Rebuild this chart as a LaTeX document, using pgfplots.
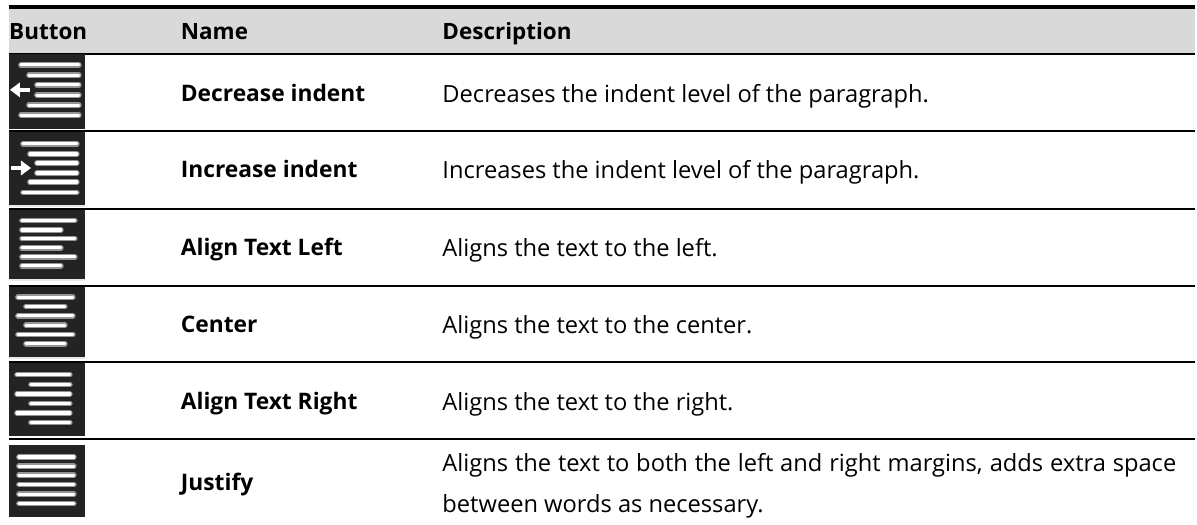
\documentclass[border=0pt]{standalone}
\usepackage{pgfplots}
\pgfplotsset{compat=1.18}
\usepackage{fontspec}
\setmainfont{Open Sans}
\definecolor{hdr}{HTML}{D9D9D9}
\definecolor{ico}{HTML}{222322}
\definecolor{halo}{HTML}{959595}
\newcommand{\bars}[1]{%
  \addplot[halo,line width=5.6pt,line cap=round,forget plot] coordinates {#1};%
  \addplot[white,line width=3.2pt,line cap=round,forget plot] coordinates {#1};}
\newcommand{\T}[3]{\node[anchor=base west,inner sep=0pt,text=black,font=\fontsize{23.7}{26}\selectfont] at (axis cs:#1,#2) {#3};}
\newcommand{\B}[3]{\node[anchor=base west,inner sep=0pt,text=black,font=\fontsize{22.8}{26}\selectfont\bfseries] at (axis cs:#1,#2) {#3};}
\newcommand{\Hd}[3]{\node[anchor=base west,inner sep=0pt,text=black,font=\fontsize{22.5}{26}\selectfont\bfseries] at (axis cs:#1,#2) {#3};}
\begin{document}
\begin{tikzpicture}
\begin{axis}[width=1197pt,height=525pt,scale only axis,hide axis,
  xmin=0,xmax=1197,ymin=0,ymax=525,y dir=reverse,clip=false]
% white page
\addplot[fill=white,draw=none,forget plot] coordinates {(0,0) (1197,0) (1197,525) (0,525)} --cycle;
% header
\addplot[fill=hdr,draw=none,forget plot] coordinates {(9,9) (1197,9) (1197,53) (9,53)} --cycle;
\addplot[black,line width=4pt,forget plot] coordinates {(9,7) (1197,7)};
\pgfplotsinvokeforeach{53.8,131,209,286,363,440}{\addplot[black,line width=2pt,forget plot] coordinates {(9,#1) (1197,#1)};}
% icon backgrounds
\addplot[fill=ico,draw=none,forget plot] coordinates {(9,54) (85,54) (85,129) (9,129)} --cycle;
\addplot[fill=ico,draw=none,forget plot] coordinates {(9,132) (85,132) (85,205) (9,205)} --cycle;
\addplot[fill=ico,draw=none,forget plot] coordinates {(9,210) (85,210) (85,279) (9,279)} --cycle;
\addplot[fill=ico,draw=none,forget plot] coordinates {(9,287) (85,287) (85,358) (9,358)} --cycle;
\addplot[fill=ico,draw=none,forget plot] coordinates {(9,364) (85,364) (85,437) (9,437)} --cycle;
\addplot[fill=ico,draw=none,forget plot] coordinates {(9,446) (85,446) (85,518) (9,518)} --cycle;
% icon 1
\bars{(21,65) (79,65)} \bars{(29,75.3) (79,75.3)} \bars{(37,85) (79,85)} \bars{(37,95.3) (79,95.3)} \bars{(29,105.3) (79,105.3)} \bars{(21,115.3) (79,115.3)}
\addplot[white,line width=4pt,forget plot] coordinates {(18,90) (30,90)};
\addplot[fill=white,draw=none,forget plot] coordinates {(10,90) (20,82.5) (20,97.5)} --cycle;
% icon 2
\bars{(23,144) (77,144)} \bars{(30,154.3) (77,154.3)} \bars{(37,163.3) (77,163.3)} \bars{(37,173.3) (77,173.3)} \bars{(30,182.3) (77,182.3)} \bars{(23,192.7) (77,192.7)}
\addplot[white,line width=4pt,forget plot] coordinates {(11,168.3) (23,168.3)};
\addplot[fill=white,draw=none,forget plot] coordinates {(31,168.3) (21,160.8) (21,175.8)} --cycle;
% icon 3
\bars{(22,221) (75,221)} \bars{(22,230.3) (61,230.3)} \bars{(22,239) (75,239)} \bars{(22,248.3) (61,248.3)} \bars{(22,257.3) (75,257.3)} \bars{(22,266.3) (61,266.3)}
% icon 4
\bars{(18,297.7) (73,297.7)} \bars{(26,307) (65,307)} \bars{(18,316.3) (73,316.3)} \bars{(26,325.7) (65,325.7)} \bars{(18,335) (73,335)} \bars{(26,344.3) (65,344.3)}
% icon 5
\bars{(17,375.3) (70,375.3)} \bars{(31,385) (70,385)} \bars{(17,394.7) (70,394.7)} \bars{(31,404.3) (70,404.3)} \bars{(17,413.7) (70,413.7)} \bars{(31,423.3) (70,423.3)}
% icon 6
\bars{(19,457.7) (74,457.7)} \bars{(19,467) (74,467)} \bars{(19,476) (74,476)} \bars{(19,485.3) (74,485.3)} \bars{(19,495) (74,495)} \bars{(19,504.3) (74,504.3)}
% light strips under icons
\addplot[fill=hdr!60!white,draw=none,forget plot] coordinates {(9,205) (85,205) (85,207.5) (9,207.5)} --cycle;
\addplot[fill=hdr!60!white,draw=none,forget plot] coordinates {(9,279) (85,279) (85,281) (9,281)} --cycle;
\addplot[fill=hdr!60!white,draw=none,forget plot] coordinates {(9,358) (85,358) (85,360) (9,360)} --cycle;
% text
\Hd{9}{40}{Button} \Hd{181}{40}{Name} \Hd{443}{40}{Description}
\B{181}{101.5}{Decrease indent} \T{443}{102.5}{Decreases the indent level of the paragraph.}
\B{181}{178}{Increase indent} \T{443}{179}{Increases the indent level of the paragraph.}
\B{181}{256}{Align Text Left} \T{443}{257}{Aligns the text to the left.}
\B{181}{333}{Center} \T{443}{334}{Aligns the text to the center.}
\B{181}{410}{Align Text Right} \T{443}{411}{Aligns the text to the right.}
\B{181}{491.5}{Justify}
\T{443}{472}{\makebox[735pt][s]{Aligns the text to both the left and right margins, adds extra space}}
\T{443}{513}{between words as necessary.}
\end{axis}
\end{tikzpicture}
\end{document}
